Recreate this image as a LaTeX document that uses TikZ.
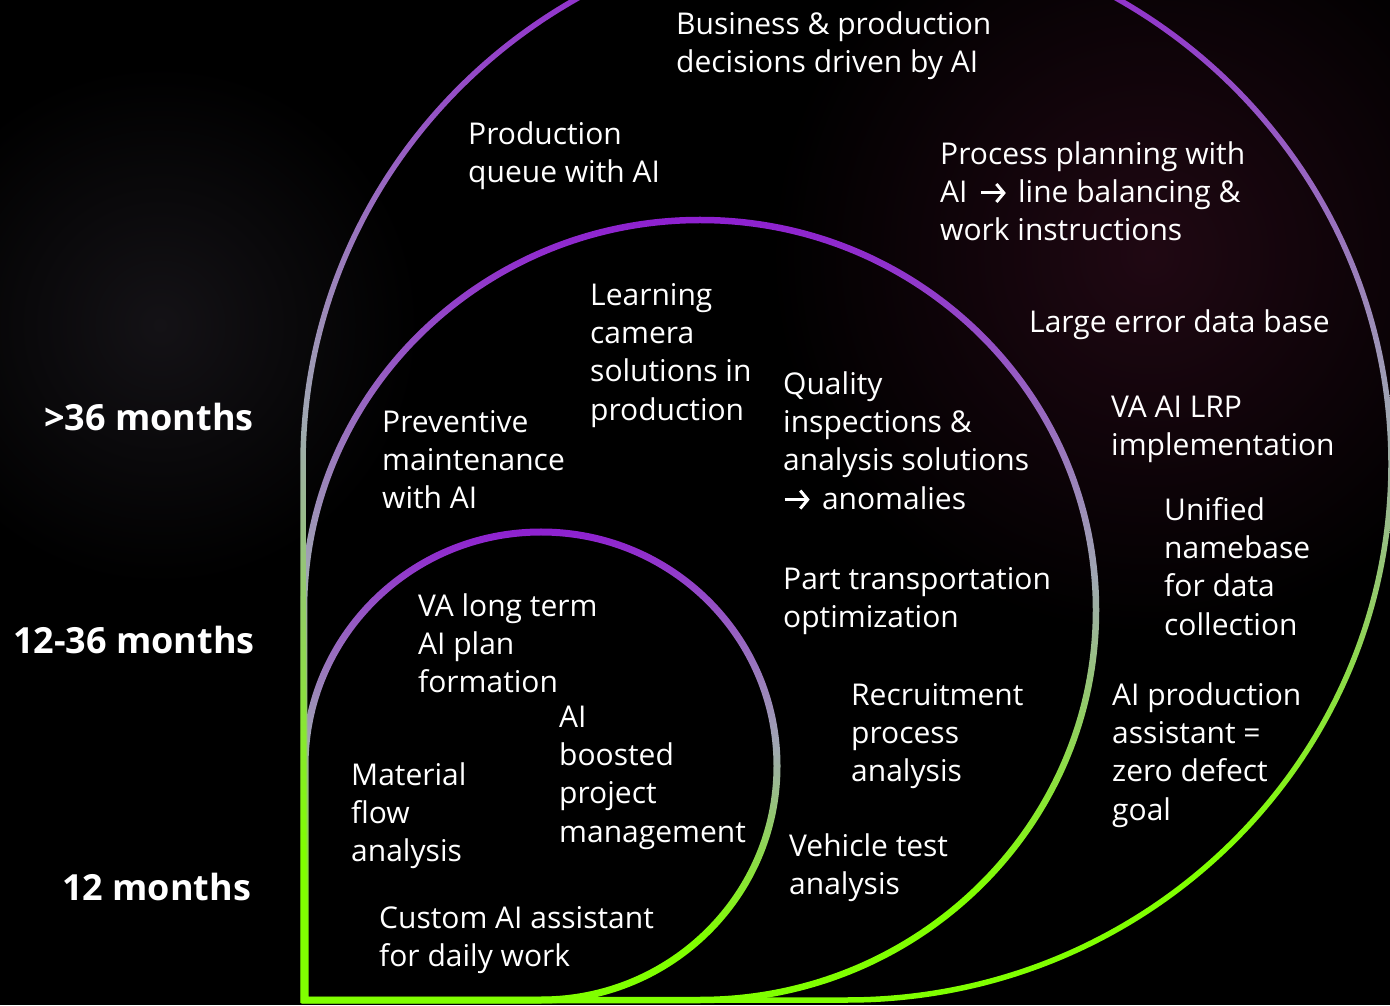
\documentclass[tikz,border=0pt]{standalone}
\usepackage{fontspec}
\usetikzlibrary{arrows.meta}
\setmainfont{Open Sans}
\definecolor{cpurple}{RGB}{142,32,208}
\definecolor{cgray}{RGB}{160,168,178}
\definecolor{cgreen}{RGB}{128,255,0}
\definecolor{glowred}{RGB}{32,8,19}
\definecolor{glowgray}{RGB}{20,18,22}
\pgfdeclareverticalshading{ringshade}{100bp}{color(0bp)=(cgreen); color(25bp)=(cgreen); color(32bp)=(cgreen); color(52bp)=(cgray); color(75bp)=(cpurple); color(100bp)=(cpurple)}
\newcommand\myarrow{\hspace{4pt}\tikz[baseline=-9.5pt]\draw[white, line width=3pt, -{Straight Barb[length=7.5pt, width=18pt, line width=3pt]}] (0pt,0pt) -- (25pt,0pt);\hspace{3pt}}
\newcommand\myringshape[5]{%
  \pgfmathsetmacro\rAo{#3+#5/2}\pgfmathsetmacro\rBo{#4+#5/2}%
  \pgfmathsetmacro\rAi{#3-#5/2}\pgfmathsetmacro\rBi{#4-#5/2}%
  \shade[shading=ringshade, even odd rule]
    (#1,#2-\rBo) arc[start angle=-90,end angle=180,x radius=\rAo pt,y radius=\rBo pt] -- (#1-\rAo,#2-\rBo) -- cycle
    (#1,#2-\rBi) arc[start angle=-90,end angle=180,x radius=\rAi pt,y radius=\rBi pt] -- (#1-\rAi,#2-\rBi) -- cycle;}
\tikzset{
  txt/.style={font=\fontsize{30}{38.3}\selectfont, text=white, align=left, anchor=north west, inner sep=0pt},
  lbl/.style={font=\bfseries\fontsize{36}{40}\selectfont, text=white, anchor=base west, inner sep=0pt}
}
\newcommand\st{\rule{0pt}{31pt}}
\begin{document}
\begin{tikzpicture}[x=1pt,y=1pt]
\useasboundingbox (0,0) rectangle (1390,1005);
\clip (0,0) rectangle (1390,1005);
\fill[black] (0,0) rectangle (1390,1005);
\shade[inner color=glowred, outer color=black] (1150,750) circle[radius=380pt];
\shade[inner color=glowgray, outer color=black] (160,680) circle[radius=260pt];
% rings: inner, middle, outer (outer on top)
\myringshape{541}{239}{236}{234}{7}
\myringshape{700}{395}{396}{390}{6.5}
\myringshape{847}{541}{544}{536}{5.5}
% texts
\node[txt] (t1)  at (676,1002) {\st Business \& production\\decisions driven by AI};
\node[txt] (t2)  at (468,892)  {\st Production\\queue with AI};
\node[txt] (t3)  at (940,872)  {\st Process planning with\\AI \myarrow{} line balancing \&\\work instructions};
\node[txt] (t4)  at (1029,704) {\st Large error data base};
\node[txt] (t5)  at (590,731)  {\st Learning\\camera\\solutions in\\production};
\node[txt] (t6)  at (783,642)  {\st Quality\\inspections \&\\analysis solutions\\\hspace{-4pt}\myarrow{} anomalies};
\node[txt] (t7)  at (1111,619) {\st VA AI LRP\\implementation};
\node[txt] (t8)  at (382,604)  {\st Preventive\\maintenance\\with AI};
\node[txt] (t9)  at (1164,516) {\st Unified\\namebase\\for data\\collection};
\node[txt] (t10) at (783,447)  {\st Part transportation\\optimization};
\node[txt] (t11) at (418,420)  {\st VA long term\\AI plan\\formation};
\node[txt] (t12) at (1112,331) {\st AI production\\assistant =\\zero defect\\goal};
\node[txt] (t13) at (851,331)  {\st Recruitment\\process\\analysis};
\node[txt] (t14) at (559,309)  {\st AI\\boosted\\project\\management};
\node[txt] (t15) at (351,251)  {\st Material\\flow\\analysis};
\node[txt] (t16) at (789,180)  {\st Vehicle test\\analysis};
\node[txt] (t17) at (379,108)  {\st Custom AI assistant\\for daily work};
% left labels
\node[lbl] (l1) at (44,574) {>36 months};
\node[lbl] (l2) at (13,351) {12-36 months};
\node[lbl] (l3) at (62,105) {12 months};
\end{tikzpicture}
\end{document}
